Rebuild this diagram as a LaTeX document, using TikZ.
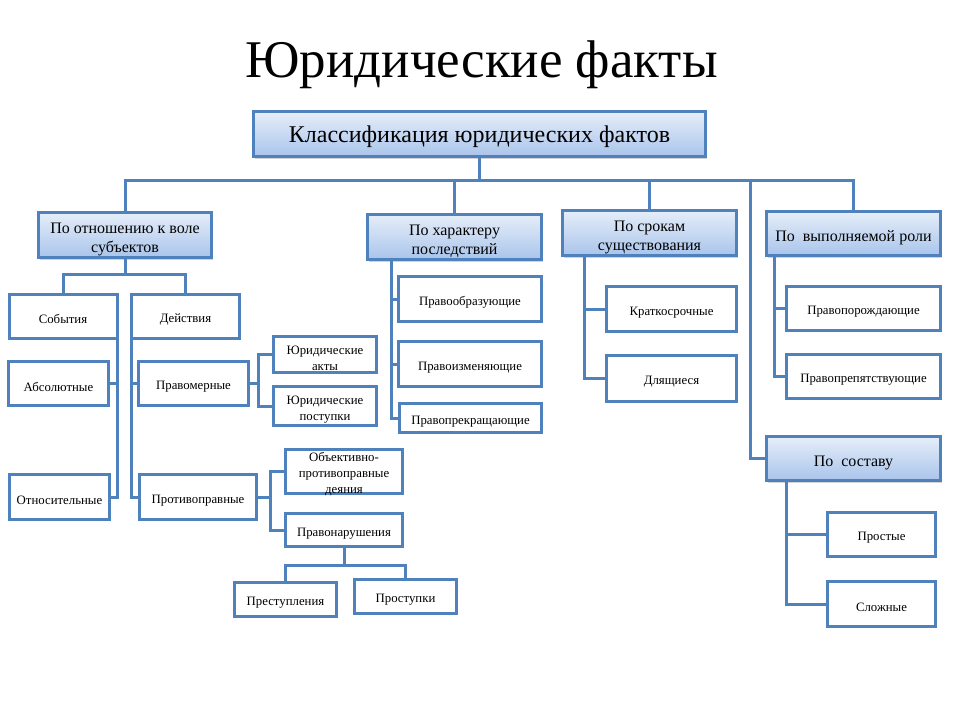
\documentclass[tikz,border=0pt]{standalone}
\usepackage{fontspec}
\setmainfont{Liberation Serif}
\usetikzlibrary{shadows}
\definecolor{ramka}{HTML}{4F81BD}
\definecolor{verh}{HTML}{E6EEF9}
\definecolor{niz}{HTML}{A9C4EB}
\newcommand\opora{\rule{0pt}{1.2em}}

\begin{document}
\begin{tikzpicture}[x=1pt,y=-1pt,
  razdel/.style={draw=ramka,line width=3pt,top color=verh,bottom color=niz,
    drop shadow={shadow xshift=1pt,shadow yshift=-2.5pt,opacity=0.35},
    align=center,inner sep=2pt,font=\fontsize{16}{19}\selectfont},
  vid/.style={draw=ramka,line width=3pt,fill=white,align=center,inner sep=2pt,
    font=\fontsize{12.8}{16}\selectfont},
  svyaz/.style={draw=ramka,line width=3pt}]
\useasboundingbox (0,0) rectangle (960,720);
\node[font=\fontsize{53}{58}\selectfont] (zagolovok) at (481.5,65) {Юридические факты};
\node[razdel,minimum width=452pt,minimum height=45pt,font=\fontsize{24}{27}\selectfont] (klass) at (479.5,134) {\rule{0pt}{0.93em}Классификация юридических фактов};
\node[razdel,minimum width=173pt,minimum height=45pt] (volya) at (125,235) {\opora По отношению к воле\\субъектов};
\node[razdel,minimum width=174pt,minimum height=45pt] (posl) at (454.5,237) {\opora По характеру\\последствий};
\node[razdel,minimum width=174pt,minimum height=44pt] (srok) at (649.5,233) {\opora По срокам\\существования};
\node[razdel,minimum width=174pt,minimum height=44pt] (rol) at (853.5,233.5) {\opora По\ \ выполняемой роли};
\node[razdel,minimum width=174pt,minimum height=44pt] (sostav) at (853.5,458.5) {\opora По\ \ составу};
\node[vid,minimum width=108pt,minimum height=44pt] (sobyt) at (63,316) {\opora События};
\node[vid,minimum width=108pt,minimum height=44pt] (deyst) at (185.5,316) {\opora Действия};
\node[vid,minimum width=100pt,minimum height=44pt] (absol) at (58.5,383.5) {\opora Абсолютные};
\node[vid,minimum width=100pt,minimum height=45pt] (otnos) at (59.5,497) {\opora Относительные};
\node[vid,minimum width=110pt,minimum height=44pt] (pravom) at (193.5,383.5) {\opora Правомерные};
\node[vid,minimum width=117pt,minimum height=45pt] (protiv) at (198,497) {\opora Противоправные};
\node[vid,minimum width=103pt,minimum height=34pt] (yuakt) at (325,354.5) {\opora Юридические\\акты};
\node[vid,minimum width=103pt,minimum height=35pt] (yupost) at (325,406) {\opora Юридические\\поступки};
\node[vid,minimum width=117pt,minimum height=44pt,inner ysep=-3pt] (obprot) at (344,471.5) {\opora Объективно-\\противоправные\\деяния};
\node[vid,minimum width=117pt,minimum height=33pt] (pravonar) at (344,530) {\opora Правонарушения};
\node[vid,minimum width=102pt,minimum height=34pt] (prestup) at (285.5,599.5) {\opora Преступления};
\node[vid,minimum width=102pt,minimum height=34pt] (prostup) at (405.5,596.5) {\opora Проступки};
\node[vid,minimum width=143pt,minimum height=45pt] (obraz) at (470,299) {\opora Правообразующие};
\node[vid,minimum width=143pt,minimum height=45pt] (izmen) at (470,364) {\opora Правоизменяющие};
\node[vid,minimum width=142pt,minimum height=29pt] (prekr) at (470.5,418) {\opora Правопрекращающие};
\node[vid,minimum width=130pt,minimum height=45pt] (kratk) at (671.5,309) {\opora Краткосрочные};
\node[vid,minimum width=130pt,minimum height=46pt] (dlyash) at (671.5,378.5) {\opora Длящиеся};
\node[vid,minimum width=154pt,minimum height=44pt] (porozh) at (863.5,308.5) {\opora Правопорождающие};
\node[vid,minimum width=154pt,minimum height=44pt] (prepyat) at (863.5,376.5) {\opora Правопрепятствующие};
\node[vid,minimum width=108pt,minimum height=44pt] (prost) at (881.5,534.5) {\opora Простые};
\node[vid,minimum width=108pt,minimum height=45pt] (slozh) at (881.5,604) {\opora Сложные};
\coordinate (shina) at (480,180);
\coordinate (sostavshina) at (750,180);
\draw[svyaz] (klass.south) -- (klass.south |- shina);
\draw[svyaz] (volya.north) |- (shina) -| (rol.north);
\draw[svyaz] (posl.north) -- (posl.north |- shina);
\draw[svyaz] (srok.north) -- (srok.north |- shina);
\draw[svyaz] (sostavshina) |- (sostav.west);
\draw[svyaz] (volya.south) -- ++(0,15) coordinate (volyauzel);
\draw[svyaz] (sobyt.north) |- (volyauzel) -| (deyst.north);
\coordinate (sobytkray) at (117,340);
\draw[svyaz] (sobytkray) |- (otnos.east);
\draw[svyaz] (absol.east) -- (absol.east -| sobytkray);
\coordinate (deystkray) at (131,340);
\draw[svyaz] (deystkray) |- (protiv.west);
\draw[svyaz] (pravom.west) -- (pravom.west -| deystkray);
\draw[svyaz] (pravom.east) -- ++(8,0) coordinate (pravomuzel);
\draw[svyaz] (yuakt.west) -| (pravomuzel) |- (yupost.west);
\draw[svyaz] (protiv.east) -- ++(12,0) coordinate (protivuzel);
\draw[svyaz] (obprot.west) -| (protivuzel) |- (pravonar.west);
\draw[svyaz] (pravonar.south) -- ++(0,17) coordinate (pravonaruzel);
\draw[svyaz] (prestup.north) |- (pravonaruzel) -| (prostup.north);
\coordinate (poslkray) at (391,260);
\draw[svyaz] (poslkray) |- (prekr.west);
\draw[svyaz] (obraz.west) -- (obraz.west -| poslkray);
\draw[svyaz] (izmen.west) -- (izmen.west -| poslkray);
\coordinate (srokkray) at (584,256);
\draw[svyaz] (srokkray) |- (dlyash.west);
\draw[svyaz] (kratk.west) -- (kratk.west -| srokkray);
\coordinate (rolkray) at (774,257);
\draw[svyaz] (rolkray) |- (prepyat.west);
\draw[svyaz] (porozh.west) -- (porozh.west -| rolkray);
\coordinate (sostavkray) at (786,482);
\draw[svyaz] (sostavkray) |- (slozh.west);
\draw[svyaz] (prost.west) -- (prost.west -| sostavkray);
\end{tikzpicture}
\end{document}
